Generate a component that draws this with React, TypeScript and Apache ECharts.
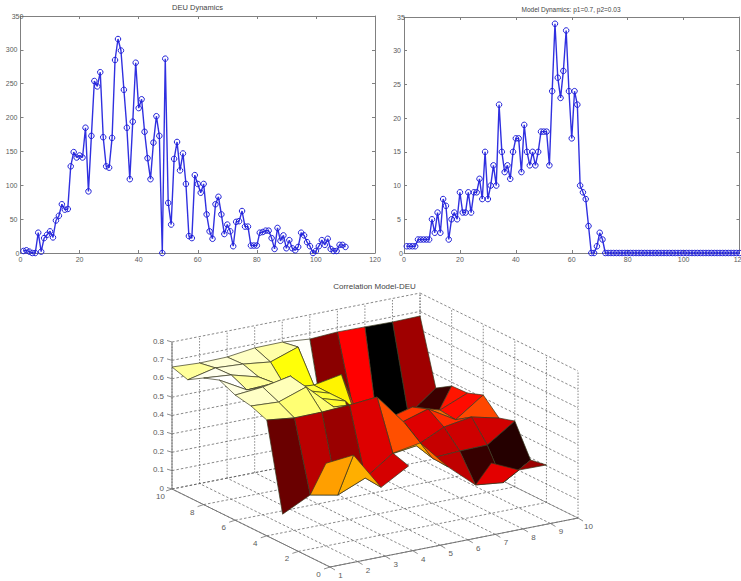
import React, { useEffect, useRef } from "react";
import * as echarts from "echarts";

const deuValues = [3,4,2,0,0,30,2,22,27,32,23,48,55,72,64,65,128,149,141,144,141,185,91,173,254,246,267,171,128,126,170,285,316,299,241,185,109,194,281,214,227,179,140,109,163,202,173,0,287,74,42,139,164,122,147,102,25,22,115,102,89,102,57,32,21,72,83,57,28,42,32,10,46,47,62,39,39,11,11,11,30,31,33,33,22,6,37,18,26,7,19,7,4,9,30,26,16,10,0,3,10,19,12,21,6,3,3,12,12,9];
const modelHead = [1,1,1,1,2,2,2,2,2,5,3,6,3,8,7,2,5,6,5,9,6,6,9,6,9,9,11,8,15,8,10,13,10,22,15,12,13,11,15,17,17,12,19,15,13,15,13,15,18,18,18,13,24,34,26,23,27,33,24,17,24,22,10,9,8,4,0,0,1,3,2];
const modelTailZeros = [0,0,0,0,0,0,0,0,0,0,0,0,0,0,0,0,0,0,0,0,0,0,0,0,0,0,0,0,0,0,0,0,0,0,0,0,0,0,0,0,0,0,0,0,0,0,0,0,0];
const modelValues = [...modelHead, ...modelTailZeros];

const surfXs = [1,2,3,4,5,6,7,8,9,10];
const zRow2 = [null,0.45,0.465,0.26,0.347,null,null,0.274,0.206,0.204];
const zRow3 = [0.16,0.235,0.205,0.268,0.374,0.40,0.24,0.112,0.095,0.188];
const zRow4 = [0.63,0.612,0.614,0.623,0.637,0.466,0.246,0.254,0.257,0.358];
const zRow5 = [0.664,0.656,0.708,0.57,0.2,0.25,0.27,0.342,0.367,0.332];
const zRow6 = [0.681,0.695,0.725,0.576,0.53,0.35,0.352,0.398,0.31,0.415];
const zRow7 = [0.72,0.637,0.645,0.577,0.53,0.35,0.325,0.366,0.32,0.383];
const zRow8 = [0.689,0.676,0.635,0.545,0.532,0.56,0.16,0.15,0.115,0.379];
const zRow9 = [0.637,0.672,0.663,0.645,0.697,0.19,0.30,0.05,0.21,0.325];
const zRow10 = [0.664,0.656,0.659,0.679,0.681,0.668,0.677,0.675,0.672,0.675];
const surfYs = [2,3,4,5,6,7,8,9,10];
const zRows = [zRow2,zRow3,zRow4,zRow5,zRow6,zRow7,zRow8,zRow9,zRow10];

const xTicks3d = [1,2,3,4,5,6,7,8,9,10];
const yTicks3d = [0,2,4,6,8,10];
const zTicks3d = [0,0.1,0.2,0.3,0.4,0.5,0.6,0.7,0.8];
const zMin = 0.06;
const zMax = 0.70;

const project = (x: number, y: number, z: number): number[] => [
  330 + 27.56 * (x - 1) - 15.8 * y,
  567 - 5.44 * (x - 1) - 7.8 * y - 183.75 * z,
];

const hot = (v: number) => {
  const t = Math.max(0, Math.min(1, v));
  const r = Math.min(1, t / 0.375);
  const g = Math.max(0, Math.min(1, (t - 0.375) / 0.375));
  const b = Math.max(0, Math.min(1, (t - 0.75) / 0.25));
  return `rgb(${Math.round(r * 255)},${Math.round(g * 255)},${Math.round(b * 255)})`;
};

type Seg = [number, number, number, number, number, number, number];
const gridSegs: Seg[] = [];
zTicks3d.forEach((z) => {
  gridSegs.push([1, 10, z, 10, 10, z, 0]);
  gridSegs.push([10, 10, z, 10, 0, z, 0]);
});
xTicks3d.forEach((x) => {
  gridSegs.push([x, 10, 0, x, 10, 0.8, 1]);
  gridSegs.push([x, 0, 0, x, 10, 0, 0]);
});
yTicks3d.forEach((y) => {
  gridSegs.push([10, y, 0, 10, y, 0.8, 1]);
  gridSegs.push([1, y, 0, 10, y, 0, 0]);
});

const axisPaths: number[][][] = [
  [[1, 10, 0.8], [1, 10, 0], [1, 0, 0], [10, 0, 0]],
];

const facets: number[][] = [];
for (let r = zRows.length - 2; r >= 0; r--) {
  for (let c = surfXs.length - 2; c >= 0; c--) {
    if ([zRows[r][c], zRows[r][c + 1], zRows[r + 1][c], zRows[r + 1][c + 1]].every((v) => v !== null)) {
      facets.push([c, r]);
    }
  }
}

const axisColor = "#808080";
const textColor = "#5a5a5a";
const fontFamily = "'Liberation Sans', Arial, sans-serif";

const make2dAxes = (grid: number, max: number, interval: number, kind: "x" | "y") => [
  {
    type: "value", gridIndex: grid, min: 0, max, interval,
    position: kind === "x" ? "bottom" : "left",
    axisLine: { show: true, onZero: false, lineStyle: { color: axisColor, width: 1 } },
    axisTick: { show: true, inside: true, length: 3, lineStyle: { color: axisColor, width: 1 } },
    axisLabel: { show: true, color: textColor, fontSize: 7, fontFamily, margin: 3, hideOverlap: false, showMinLabel: true, showMaxLabel: true, alignMaxLabel: "center", alignMinLabel: "center" },
    splitLine: { show: false },
  },
  {
    type: "value", gridIndex: grid, min: 0, max, interval,
    position: kind === "x" ? "top" : "right",
    axisLine: { show: true, onZero: false, lineStyle: { color: axisColor, width: 1 } },
    axisTick: { show: true, inside: true, length: 3, lineStyle: { color: axisColor, width: 1 } },
    axisLabel: { show: false },
    splitLine: { show: false },
  },
];

const lineSeries = (values: number[], axis: number) => ({
  type: "line",
  xAxisIndex: axis,
  yAxisIndex: axis,
  data: values.map((v, i) => [i + 1, v]),
  symbol: "circle",
  symbolSize: 5.5,
  showAllSymbol: true,
  clip: true,
  lineStyle: { color: "#3030e0", width: 1.4 },
  itemStyle: { color: "rgba(0,0,0,0)", borderColor: "#2020d8", borderWidth: 1 },
  silent: true,
});

const titleText = (fontSize: number) => ({ fontSize, fontWeight: "normal", color: "#444", fontFamily });

export default function App() {
  const ref = useRef<HTMLDivElement>(null);
  useEffect(() => {
    const chart = echarts.init(ref.current!, undefined, { renderer: "svg" });
    const toPx = (api: any, x: number, y: number, z: number) => api.coord(project(x, y, z));

    const option: any = {
      animation: false,
      backgroundColor: "#fff",
      title: [
        { text: "DEU Dynamics", left: 197.5, top: 3, padding: 0, textAlign: "center", textStyle: titleText(7.5) },
        { text: "Model Dynamics: p1=0.7, p2=0.03", left: 571, top: 6, padding: 0, textAlign: "center", textStyle: titleText(6.5) },
        { text: "Correlation Model-DEU", left: 374.5, top: 282, padding: 0, textAlign: "center", textStyle: titleText(8) },
      ],
      grid: [
        { left: 20.5, top: 16, width: 354.5, height: 237, outerBoundsMode: "none" },
        { left: 404, top: 17, width: 335.5, height: 236, outerBoundsMode: "none" },
        { left: 0, top: 0, width: 741, height: 581, outerBoundsMode: "none" },
      ],
      xAxis: [
        ...make2dAxes(0, 120, 20, "x"),
        ...make2dAxes(1, 120, 20, "x"),
        { type: "value", gridIndex: 2, min: 0, max: 741, show: false },
      ],
      yAxis: [
        ...make2dAxes(0, 350, 50, "y"),
        ...make2dAxes(1, 35, 5, "y"),
        { type: "value", gridIndex: 2, min: 0, max: 581, inverse: true, show: false },
      ],
      series: [
        lineSeries(deuValues, 0),
        lineSeries(modelValues, 2),
        {
          type: "custom", xAxisIndex: 4, yAxisIndex: 4, coordinateSystem: "cartesian2d", clip: false, silent: true,
          data: gridSegs.map((s) => project(s[0], s[1], s[2])),
          renderItem: (p: any, api: any) => {
            const s = gridSegs[p.dataIndex];
            const a = toPx(api, s[0], s[1], s[2]);
            const b = toPx(api, s[3], s[4], s[5]);
            return {
              type: "line",
              shape: { x1: a[0], y1: a[1], x2: b[0], y2: b[1] },
              style: { stroke: "#555", lineWidth: 0.7, lineDash: s[6] ? [1.5, 1.5] : [2.5, 2] },
            };
          },
        },
        {
          type: "custom", xAxisIndex: 4, yAxisIndex: 4, coordinateSystem: "cartesian2d", clip: false, silent: true,
          data: [
            ...xTicks3d.map((x) => [...project(x, 0, 0), 0, x]),
            ...yTicks3d.map((y) => [...project(1, y, 0), 1, y]),
            ...zTicks3d.map((z) => [...project(1, 10, z), 2, z]),
          ],
          renderItem: (p: any, api: any) => {
            const kind = api.value(2);
            const v = api.value(3);
            const pos = api.coord([api.value(0), api.value(1)]);
            const tick = kind === 0 ? [5, 3] : kind === 1 ? [-6, 2] : [-5, -1.5];
            const off = kind === 0 ? [10.5, 8.5] : kind === 1 ? [-11.5, 7.5] : [-8, -1];
            const label = kind === 2 ? (v === 0 ? "0" : String(Number(v.toFixed(1)))) : String(v);
            return {
              type: "group",
              children: [
                { type: "line", shape: { x1: pos[0], y1: pos[1], x2: pos[0] + tick[0], y2: pos[1] + tick[1] }, style: { stroke: "#707070", lineWidth: 0.8 } },
                {
                  type: "text", x: pos[0] + off[0], y: pos[1] + off[1],
                  style: { text: label, fill: textColor, fontSize: 8, fontFamily, align: kind === 2 ? "right" : "center", verticalAlign: "middle" },
                },
              ],
            };
          },
        },
        {
          type: "custom", xAxisIndex: 4, yAxisIndex: 4, coordinateSystem: "cartesian2d", clip: false, silent: true,
          data: axisPaths.map((path) => project(path[0][0], path[0][1], path[0][2])),
          renderItem: (p: any, api: any) => ({
            type: "polyline",
            shape: { points: axisPaths[p.dataIndex].map((q) => toPx(api, q[0], q[1], q[2])) },
            style: { stroke: "#777", lineWidth: 1, fill: "none" },
          }),
        },
        {
          type: "custom", xAxisIndex: 4, yAxisIndex: 4, coordinateSystem: "cartesian2d", clip: false, silent: true,
          data: facets.map(([c, r]) => [c, r]),
          renderItem: (p: any, api: any) => {
            const [c, r] = facets[p.dataIndex];
            const pt = (cc: number, rr: number) => toPx(api, surfXs[cc], surfYs[rr], zRows[rr][cc] as number);
            const v = ((zRows[r][c] as number) - zMin) / (zMax - zMin);
            return {
              type: "polygon",
              shape: { points: [pt(c, r), pt(c + 1, r), pt(c + 1, r + 1), pt(c, r + 1)] },
              style: { fill: hot(v), stroke: "#3a3a20", lineWidth: 0.7, lineJoin: "round" },
            };
          },
        },
      ],
    };
    chart.setOption(option);
    return () => chart.dispose();
  }, []);
  return <div ref={ref} style={{ position: "absolute", left: 0, top: 0, width: 741, height: 581 }} />;
}
